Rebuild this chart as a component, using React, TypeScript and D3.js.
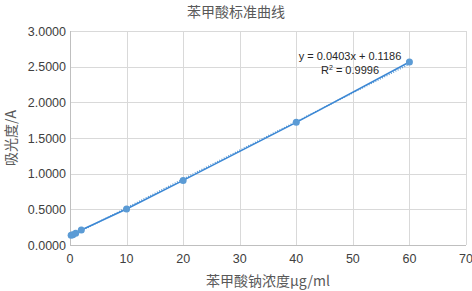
import React from "react";
import * as d3 from "d3";

const xValues = [0.2, 0.5, 1, 2, 10, 20, 40, 60];
const yValues = [0.135, 0.145, 0.165, 0.21, 0.505, 0.905, 1.72, 2.565];
const xTicks = [0, 10, 20, 30, 40, 50, 60, 70];
const yTicks = [0, 0.5, 1, 1.5, 2, 2.5, 3];
const slope = 0.0403;
const intercept = 0.1186;
const title = "苯甲酸标准曲线";
const xTitle = "苯甲酸钠浓度μg/ml";
const yTitle = "吸光度/A";
const eqText = "y = 0.0403x + 0.1186";
const r2Value = "0.9996";

const W = 472;
const H = 291;
const left = 70;
const right = 466;
const top = 31;
const bottom = 245;

export default function App() {
  const x = d3.scaleLinear().domain([0, 70]).range([left, right]);
  const y = d3.scaleLinear().domain([0, 3]).range([bottom, top]);
  const pts = xValues.map((v, i) => [v, yValues[i]] as [number, number]);
  const line = d3.line<[number, number]>().x((d) => x(d[0])).y((d) => y(d[1]));
  const trend: [number, number][] = [0, 60].map((v) => [v, slope * v + intercept]);
  const grid = "#d9d9d9";
  const tickFont = "'Liberation Sans', Arial, sans-serif";
  const cjk = "'Noto Sans CJK SC', sans-serif";
  return (
    <svg
      width={W}
      height={H}
      style={{ position: "absolute", left: 0, top: 0, background: "#fff" }}
    >
      {yTicks.map((t) => (
        <line key={"gy" + t} x1={left} x2={right} y1={Math.round(y(t)) + 0.5} y2={Math.round(y(t)) + 0.5} stroke={grid} strokeWidth={1} />
      ))}
      {xTicks.map((t) => (
        <line key={"gx" + t} y1={top} y2={bottom} x1={Math.round(x(t)) + 0.5} x2={Math.round(x(t)) + 0.5} stroke={grid} strokeWidth={1} />
      ))}
      <line x1={left} x2={right} y1={Math.round(y(0)) + 0.5} y2={Math.round(y(0)) + 0.5} stroke="#bfbfbf" />
      <line y1={top} y2={bottom} x1={Math.round(x(0)) + 0.5} x2={Math.round(x(0)) + 0.5} stroke="#bfbfbf" />
      {yTicks.map((t) => (
        <text key={"ty" + t} x={left - 4} y={y(t)} dy="0.36em" textAnchor="end" fontFamily={tickFont} fontSize={12.5} fill="#404040">
          {d3.format(".4f")(t)}
        </text>
      ))}
      {xTicks.map((t) => (
        <text key={"tx" + t} x={x(t)} y={bottom + 18} textAnchor="middle" fontFamily={tickFont} fontSize={12.5} fill="#404040">
          {t}
        </text>
      ))}
      <path d={line(trend) || ""} fill="none" stroke="#5b9bd5" strokeWidth={1.5} strokeDasharray="1,1.5" />
      <path d={line(pts) || ""} fill="none" stroke="#3b87d4" strokeWidth={1.5} />
      {pts.map((p, i) => (
        <circle key={"p" + i} cx={x(p[0])} cy={y(p[1])} r={3.5} fill="#5b9bd5" />
      ))}
      <text x={350} y={60} textAnchor="middle" fontFamily={tickFont} fontSize={11} fill="#262626">
        {eqText}
      </text>
      <text x={350} y={74} textAnchor="middle" fontFamily={tickFont} fontSize={11} fill="#262626">
        R<tspan fontSize={7} dy={-4}>2</tspan><tspan dy={4}>{" = " + r2Value}</tspan>
      </text>
      <text x={236} y={17} textAnchor="middle" fontFamily={cjk} fontSize={14} fill="#595959">
        {title}
      </text>
      <text x={268} y={286} textAnchor="middle" fontFamily={cjk} fontSize={14} fill="#595959">
        {xTitle}
      </text>
      <text
        transform={`translate(16, ${(top + bottom) / 2}) rotate(-90)`}
        textAnchor="middle"
        fontFamily={cjk}
        fontSize={14}
        fill="#595959"
      >
        {yTitle}
      </text>
    </svg>
  );
}
